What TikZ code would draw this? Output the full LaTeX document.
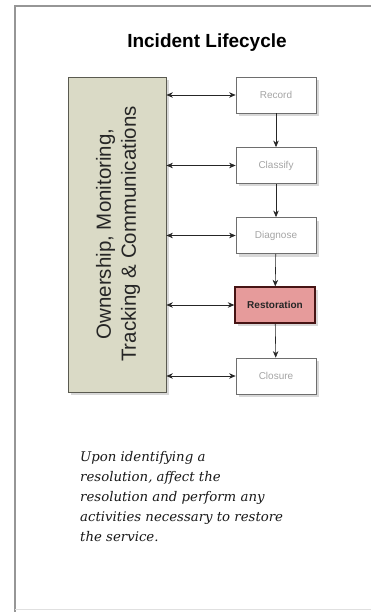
\documentclass[tikz,border=0pt]{standalone}
\usepackage{fontspec}
\newfontfamily\arial{Liberation Sans}
\newfontfamily\noteserif{DejaVu Serif}
\usetikzlibrary{shadows,arrows.meta}
\definecolor{framegray}{RGB}{150,150,150}
\definecolor{khaki}{RGB}{218,218,198}
\definecolor{khakiedge}{RGB}{90,90,80}
\definecolor{stepgray}{RGB}{165,165,165}
\definecolor{stepedge}{RGB}{110,110,110}
\definecolor{restfill}{RGB}{230,155,155}
\definecolor{restedge}{RGB}{70,20,20}
\tikzset{
  softshadow/.style={drop shadow={shadow xshift=3pt,shadow yshift=-3pt,opacity=0.3,fill=gray}},
  stepbox/.style={draw=stepedge,fill=white,line width=0.8pt,minimum width=80pt,minimum height=36pt,
    inner sep=0pt,font=\arial\fontsize{10}{12}\selectfont,text=stepgray,softshadow},
  activebox/.style={stepbox,fill=restfill,draw=restedge,line width=1.4pt,text=black!85,
    font=\arial\bfseries\fontsize{10}{12}\selectfont},
  link/.style={-{Stealth[length=6.5pt,width=5.5pt]},line width=0.6pt,black!85},
  both/.style={{Stealth[length=6.5pt,width=5.5pt]}-{Stealth[length=6.5pt,width=5.5pt]},line width=0.6pt,black!85}
}
\begin{document}
\begin{tikzpicture}[x=1pt,y=-1pt]
\useasboundingbox (0,0) rectangle (371,612);
\fill[white] (0,0) rectangle (371,612);
% outer frame
\draw[framegray,line width=1.8pt] (15,612) -- (15,6) -- (371,6);
\draw[black!12,line width=1pt] (15,609) -- (371,609);

% title
\node[font=\arial\bfseries\fontsize{19}{22}\selectfont] (title) at (207,43) {Incident Lifecycle};

% left bar
\node[draw=khakiedge,fill=khaki,line width=0.8pt,minimum width=98pt,minimum height=315pt,
  inner sep=0pt,softshadow] (bar) at (117,234.5) {};
\node[rotate=90,align=center,font=\arial\fontsize{20.5}{25}\selectfont,text=black!85] (bartext) at (118,234)
  {Ownership, Monitoring,\\Tracking \& Communications};

% steps
\node[stepbox] (rec) at (276,95) {Record};
\node[stepbox] (cla) at (276,165.5) {Classify};
\node[stepbox] (dia) at (276,235.5) {Diagnose};
\node[activebox] (res) at (275,305) {Restoration};
\node[stepbox] (clo) at (276,376) {Closure};

% flow
\draw[link] (rec) -- (cla);
\draw[link] (cla) -- (dia);
\draw[link] (dia) -- (res);
\draw[link] (res) -- (clo);

% two-way links with the bar
\foreach \s in {rec,cla,dia,res,clo}
  \draw[both] (bar.east |- \s.west) -- (\s.west);

% description
\node[anchor=north west,align=left,inner sep=0pt,
  font=\noteserif\itshape\fontsize{13.3}{20}\selectfont,text=black!90] (note) at (80,451)
  {Upon identifying a\\resolution, affect the\\resolution and perform any\\activities necessary to restore\\the service.};
\end{tikzpicture}
\end{document}
